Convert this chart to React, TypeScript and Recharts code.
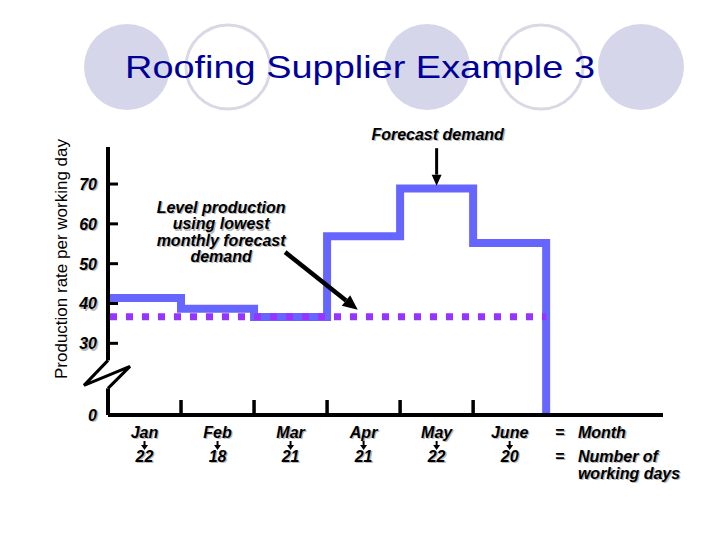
import { ComposedChart, Line, ReferenceLine, XAxis, YAxis } from "recharts";

const months = ["Jan", "Feb", "Mar", "Apr", "May", "June"];
const workingDays = [22, 18, 21, 21, 22, 20];
const demandRate = [41.4, 38.7, 36.6, 56.9, 68.9, 55.2];
const levelRate = 36.7;
const rateTicks = [30, 40, 50, 60, 70];

// broken y axis: the value AXIS_FLOOR is drawn as "0"
const AXIS_FLOOR = 12;
const AXIS_BREAK = 22.2;
const Y_TOP = 79.3;
const X_END = 7.6;
const LEGEND_POS = 6.12;

const FONT = "Arial, 'Liberation Sans', sans-serif";

const chartData = months
  .map((m, i) => ({ pos: i, month: m, demand: demandRate[i], level: levelRate }))
  .concat([{ pos: months.length, month: "", demand: AXIS_FLOOR, level: levelRate }]);

const xTicks = months
  .flatMap((_, i) => (i === 0 ? [0.5] : [i, i + 0.5]))
  .concat([LEGEND_POS]);

const yTicks = [AXIS_FLOOR, AXIS_BREAK, ...rateTicks];

// bold italic text with the grey drop shadow of the slide
function ShadowText({ x, y, children, anchor = "middle", size = 16 }: any) {
  const common = {
    x,
    y,
    textAnchor: anchor,
    fontSize: size,
    fontWeight: "bold",
    fontStyle: "italic",
    fontFamily: FONT
  };
  return (
    <g>
      <text {...common} dx={1.3} dy={1.3} fill="#b8b8b8">
        {children}
      </text>
      <text {...common} fill="#000">
        {children}
      </text>
    </g>
  );
}

function renderYTick(props: any) {
  const { x, y, payload } = props;
  const v = payload.value;
  if (v === AXIS_BREAK) {
    return (
      <g>
        <rect x={x - 4} y={y - 14} width={8} height={28} fill="#fff" />
        <polyline
          points={`${x},${y - 14} ${x - 24},${y + 11} ${x + 22},${y - 8} ${x},${y + 14}`}
          fill="none"
          stroke="#000"
          strokeWidth={3}
        />
      </g>
    );
  }
  return (
    <g>
      {v !== AXIS_FLOOR && <line x1={x} y1={y} x2={x + 10} y2={y} stroke="#000" strokeWidth={3} />}
      <ShadowText x={x - 11} y={y + 6} anchor="end">
        {v === AXIS_FLOOR ? "0" : v}
      </ShadowText>
    </g>
  );
}

function renderXTick(props: any) {
  const { x, y, payload } = props;
  const v = payload.value;
  if (v === LEGEND_POS) {
    return (
      <g>
        <ShadowText x={x} y={y + 23} anchor="start">=</ShadowText>
        <ShadowText x={x + 23} y={y + 23} anchor="start">Month</ShadowText>
        <ShadowText x={x} y={y + 47} anchor="start">=</ShadowText>
        <ShadowText x={x + 23} y={y + 47} anchor="start">Number of</ShadowText>
        <ShadowText x={x + 23} y={y + 64} anchor="start">working days</ShadowText>
      </g>
    );
  }
  if (Number.isInteger(v)) {
    return <line x1={x} y1={y - 15} x2={x} y2={y} stroke="#000" strokeWidth={3.5} />;
  }
  const i = v - 0.5;
  return (
    <g>
      <ShadowText x={x} y={y + 23}>{months[i]}</ShadowText>
      <line x1={x} y1={y + 26} x2={x} y2={y + 31} stroke="#000" strokeWidth={2} />
      <polygon points={`${x - 3.5},${y + 30} ${x + 3.5},${y + 30} ${x},${y + 35}`} fill="#000" />
      <ShadowText x={x} y={y + 47}>{workingDays[i]}</ShadowText>
    </g>
  );
}

function Pointer(props: any) {
  const { x1, y1, x2, y2, weight, head, lines, textX, textY } = props;
  const dx = x2 - x1;
  const dy = y2 - y1;
  const len = Math.sqrt(dx * dx + dy * dy);
  const ux = dx / len;
  const uy = dy / len;
  const bx = x2 - ux * head;
  const by = y2 - uy * head;
  const w = head * 0.45;
  return (
    <g>
      <line x1={x1} y1={y1} x2={bx} y2={by} stroke="#000" strokeWidth={weight} />
      <polygon
        points={`${x2},${y2} ${bx - uy * w},${by + ux * w} ${bx + uy * w},${by - ux * w}`}
        fill="#000"
      />
      {lines.map((t: string, k: number) => (
        <ShadowText key={k} x={x1 + textX} y={y1 + textY + k * 16.3}>
          {t}
        </ShadowText>
      ))}
    </g>
  );
}

function YLabel(props: any) {
  const { viewBox } = props;
  const x = viewBox.x + 67;
  const y = viewBox.y + 112;
  return (
    <text
      x={x}
      y={y}
      transform={`rotate(-90, ${x}, ${y})`}
      textAnchor="middle"
      fontSize={17}
      fontFamily={FONT}
      fill="#000"
    >
      Production rate per working day
    </text>
  );
}

export default function App() {
  return (
    <div style={{ position: "absolute", left: 0, top: 0, width: 720, height: 540, background: "#fff" }}>
      <svg width={720} height={540} style={{ position: "absolute", left: 0, top: 0 }}>
        <circle cx={127} cy={67} r={43} fill="#d6d6ea" />
        <circle cx={228} cy={67} r={42} fill="none" stroke="#d9d9e6" strokeWidth={3} />
        <circle cx={427} cy={67} r={43} fill="#d6d6ea" />
        <circle cx={541} cy={67} r={42} fill="none" stroke="#d9d9e6" strokeWidth={3} />
        <circle cx={641} cy={67} r={43} fill="#d6d6ea" />
        <text
          x={360}
          y={78}
          textAnchor="middle"
          fontSize={32}
          fontFamily={FONT}
          fill="#000099"
          textLength={470}
          lengthAdjust="spacingAndGlyphs"
        >
          Roofing Supplier Example 3
        </text>
      </svg>
      <div style={{ position: "absolute", left: 0, top: 0 }}>
        <ComposedChart
          width={720}
          height={540}
          data={chartData}
          margin={{ top: 147, right: 57, bottom: 0, left: 0 }}
        >
          <XAxis
            dataKey="pos"
            type="number"
            domain={[0, X_END]}
            ticks={xTicks}
            interval={0}
            height={125}
            tickLine={false}
            tickSize={0}
            tickMargin={0}
            axisLine={{ stroke: "#000", strokeWidth: 4 }}
            tick={renderXTick}
            allowDataOverflow
          />
          <YAxis
            type="number"
            domain={[AXIS_FLOOR, Y_TOP]}
            ticks={yTicks}
            interval={0}
            width={108}
            tickLine={false}
            tickSize={0}
            tickMargin={0}
            axisLine={{ stroke: "#000", strokeWidth: 4 }}
            tick={renderYTick}
            allowDataOverflow
            label={(p: any) => <YLabel {...p} />}
          />
          <Line
            dataKey="demand"
            type="stepAfter"
            stroke="#6666ff"
            strokeWidth={8}
            dot={false}
            isAnimationActive={false}
          />
          <Line
            dataKey="level"
            type="linear"
            stroke="#9933ff"
            strokeWidth={7}
            strokeDasharray="7 9"
            strokeDashoffset={-2}
            dot={false}
            isAnimationActive={false}
          />
          <ReferenceLine
            segment={[
              { x: 4.5, y: 79 },
              { x: 4.5, y: 69.6 }
            ]}
            shape={(p: any) => (
              <Pointer {...p} weight={3} head={11} lines={["Forecast demand"]} textX={1} textY={-8} />
            )}
          />
          <ReferenceLine
            segment={[
              { x: 2.425, y: 52.9 },
              { x: 3.42, y: 38.4 }
            ]}
            shape={(p: any) => (
              <Pointer
                {...p}
                weight={4.5}
                head={15}
                lines={["Level production", "using lowest", "monthly forecast", "demand"]}
                textX={-64}
                textY={-39}
              />
            )}
          />
        </ComposedChart>
      </div>
    </div>
  );
}
